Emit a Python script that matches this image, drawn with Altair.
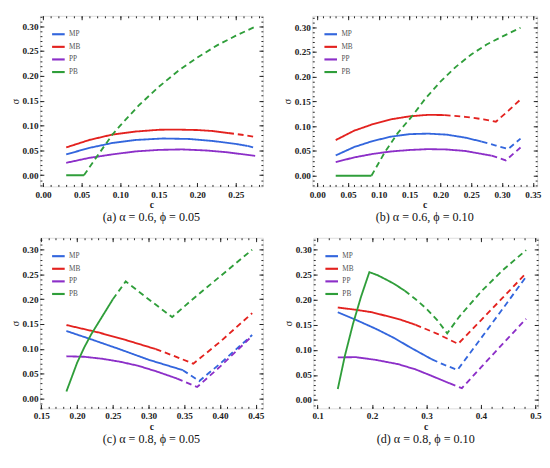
import altair as alt
import pandas as pd

SERIES = ["MP", "MB", "PP", "PB"]
COLORS = ["#3366dd", "#e3221f", "#8c2fc8", "#2f9e3a"]
FONT = "Liberation Serif"

# ---------------- panel (a): alpha = 0.6, phi = 0.05 ----------------
a_MP_x = [0.03, 0.06, 0.09, 0.12, 0.155, 0.19, 0.22, 0.25, 0.265, 0.275]
a_MP_y = [0.042, 0.055, 0.065, 0.071, 0.074, 0.073, 0.069, 0.063, 0.059, 0.055]
a_MB_x = [0.03, 0.06, 0.09, 0.12, 0.15, 0.17, 0.20, 0.22, 0.24, 0.26, 0.275]
a_MB_y = [0.056, 0.071, 0.082, 0.088, 0.0915, 0.092, 0.091, 0.089, 0.085, 0.081, 0.077]
a_PP_x = [0.03, 0.06, 0.09, 0.12, 0.15, 0.18, 0.21, 0.24, 0.275]
a_PP_y = [0.025, 0.035, 0.042, 0.048, 0.051, 0.052, 0.050, 0.046, 0.039]
a_PB_x = [0.03, 0.053, 0.07, 0.08, 0.09, 0.10, 0.125, 0.15, 0.175, 0.20, 0.225, 0.25, 0.275]
a_PB_y = [0.0, 0.0, 0.038, 0.06, 0.082, 0.10, 0.142, 0.178, 0.21, 0.237, 0.261, 0.281, 0.299]
a_dash_from = {"MP": 0.265, "MB": 0.24, "PP": None, "PB": 0.053}

# ---------------- panel (b): alpha = 0.6, phi = 0.10 ----------------
b_MP_x = [0.03, 0.06, 0.09, 0.12, 0.15, 0.18, 0.21, 0.24, 0.267, 0.29, 0.31, 0.33]
b_MP_y = [0.041, 0.058, 0.070, 0.079, 0.084, 0.085, 0.083, 0.077, 0.069, 0.061, 0.054, 0.075]
b_MB_x = [0.03, 0.06, 0.09, 0.12, 0.15, 0.18, 0.207, 0.24, 0.27, 0.29, 0.31, 0.33]
b_MB_y = [0.072, 0.091, 0.104, 0.114, 0.120, 0.123, 0.1225, 0.119, 0.114, 0.109, 0.131, 0.154]
b_PP_x = [0.03, 0.06, 0.09, 0.12, 0.15, 0.18, 0.21, 0.24, 0.283, 0.306, 0.33]
b_PP_y = [0.0275, 0.037, 0.044, 0.049, 0.052, 0.0537, 0.053, 0.050, 0.0405, 0.031, 0.057]
b_PB_x = [0.03, 0.088, 0.11, 0.13, 0.155, 0.175, 0.20, 0.225, 0.25, 0.275, 0.30, 0.33]
b_PB_y = [0.0, 0.0, 0.048, 0.085, 0.122, 0.155, 0.19, 0.22, 0.245, 0.265, 0.281, 0.299]
b_dash_from = {"MP": 0.267, "MB": 0.207, "PP": 0.283, "PB": 0.088}

# ---------------- panel (c): alpha = 0.8, phi = 0.05 ----------------
c_MP_x = [0.185, 0.22, 0.26, 0.30, 0.348, 0.371, 0.40, 0.445]
c_MP_y = [0.136, 0.119, 0.099, 0.078, 0.057, 0.035, 0.070, 0.128]
c_MB_x = [0.185, 0.23, 0.27, 0.31, 0.335, 0.3626, 0.40, 0.445]
c_MB_y = [0.148, 0.133, 0.117, 0.0995, 0.086, 0.070, 0.114, 0.172]
c_PP_x = [0.185, 0.21, 0.235, 0.26, 0.285, 0.31, 0.34, 0.368, 0.40, 0.445]
c_PP_y = [0.085, 0.084, 0.080, 0.074, 0.066, 0.055, 0.040, 0.023, 0.064, 0.126]
c_PB_x = [0.185, 0.20, 0.21, 0.22, 0.235, 0.25, 0.268, 0.30, 0.333, 0.36, 0.40, 0.445]
c_PB_y = [0.014, 0.072, 0.103, 0.13, 0.165, 0.20, 0.236, 0.200, 0.164, 0.198, 0.246, 0.300]
c_dash_from = {"MP": 0.348, "MB": 0.31, "PP": 0.34, "PB": 0.25}

# ---------------- panel (d): alpha = 0.8, phi = 0.10 ----------------
d_MP_x = [0.137, 0.17, 0.207, 0.24, 0.27, 0.31, 0.333, 0.357, 0.40, 0.44, 0.483]
d_MP_y = [0.175, 0.160, 0.142, 0.124, 0.105, 0.081, 0.070, 0.060, 0.123, 0.182, 0.246]
d_MB_x = [0.137, 0.17, 0.20, 0.25, 0.28, 0.32, 0.358, 0.40, 0.44, 0.483]
d_MB_y = [0.1845, 0.180, 0.175, 0.161, 0.150, 0.132, 0.112, 0.159, 0.204, 0.253]
d_PP_x = [0.137, 0.17, 0.207, 0.248, 0.28, 0.3075, 0.343, 0.365, 0.40, 0.44, 0.483]
d_PP_y = [0.085, 0.0855, 0.080, 0.0715, 0.061, 0.049, 0.033, 0.0236, 0.065, 0.112, 0.162]
d_PB_x = [0.137, 0.15, 0.165, 0.18, 0.195, 0.21, 0.2245, 0.24, 0.26, 0.28, 0.30, 0.32,
          0.338, 0.36, 0.40, 0.44, 0.483]
d_PB_y = [0.022, 0.088, 0.152, 0.207, 0.255, 0.249, 0.241, 0.232, 0.218, 0.201, 0.182, 0.159,
          0.133, 0.166, 0.216, 0.259, 0.299]
d_dash_from = {"MP": 0.31, "MB": 0.28, "PP": 0.343, "PB": 0.26}

# ---------------- axes ----------------
y_ticks = [0.00, 0.05, 0.10, 0.15, 0.20, 0.25, 0.30]
y_minor = [round(-0.02 + 0.01 * i, 2) for i in range(35)]
a_xticks = [0.00, 0.05, 0.10, 0.15, 0.20, 0.25]
b_xticks = [0.00, 0.05, 0.10, 0.15, 0.20, 0.25, 0.30, 0.35]
c_xticks = [0.15, 0.20, 0.25, 0.30, 0.35, 0.40, 0.45]
d_xticks = [0.1, 0.2, 0.3, 0.4, 0.5]
a_xminor = [round(0.01 * i, 2) for i in range(0, 29)]
b_xminor = [round(0.01 * i, 2) for i in range(0, 36)]
c_xminor = [round(0.15 + 0.01 * i, 2) for i in range(0, 31)]
d_xminor = [round(0.1 + 0.02 * i, 2) for i in range(0, 21)]

panels = [
    dict(cap="(a) α = 0.6, ϕ = 0.05", xdom=[-0.004, 0.285], ydom=[-0.0225, 0.321],
         xt=a_xticks, xm=a_xminor, fmt=".2f", w=230,
         data={"MP": (a_MP_x, a_MP_y), "MB": (a_MB_x, a_MB_y), "PP": (a_PP_x, a_PP_y), "PB": (a_PB_x, a_PB_y)},
         dash=a_dash_from),
    dict(cap="(b) α = 0.6, ϕ = 0.10", xdom=[-0.008, 0.357], ydom=[-0.0216, 0.323],
         xt=b_xticks, xm=b_xminor, fmt=".2f", w=232,
         data={"MP": (b_MP_x, b_MP_y), "MB": (b_MB_x, b_MB_y), "PP": (b_PP_x, b_PP_y), "PB": (b_PB_x, b_PB_y)},
         dash=b_dash_from),
    dict(cap="(c) α = 0.8, ϕ = 0.05", xdom=[0.148, 0.46], ydom=[-0.02, 0.324],
         xt=c_xticks, xm=c_xminor, fmt=".2f", w=230,
         data={"MP": (c_MP_x, c_MP_y), "MB": (c_MB_x, c_MB_y), "PP": (c_PP_x, c_PP_y), "PB": (c_PB_x, c_PB_y)},
         dash=c_dash_from),
    dict(cap="(d) α = 0.8, ϕ = 0.10", xdom=[0.092, 0.505], ydom=[-0.0166, 0.3236],
         xt=d_xticks, xm=d_xminor, fmt=".1f", w=232,
         data={"MP": (d_MP_x, d_MP_y), "MB": (d_MB_x, d_MB_y), "PP": (d_PP_x, d_PP_y), "PB": (d_PB_x, d_PB_y)},
         dash=d_dash_from),
]

AX = dict(domain=False, grid=False, tickColor="#222", tickWidth=1, minExtent=0)


def make_panel(p):
    rows = []
    for s in SERIES:
        xs, ys = p["data"][s]
        cut = p["dash"][s]
        for x, y in zip(xs, ys):
            if cut is None or x <= cut:
                rows.append({"series": s, "style": "solid", "x": x, "y": y})
            if cut is not None and x >= cut:
                rows.append({"series": s, "style": "dashed", "x": x, "y": y})
    df = pd.DataFrame(rows)
    xs = alt.Scale(domain=p["xdom"], nice=False, zero=False)
    ys = alt.Scale(domain=p["ydom"], nice=False, zero=False)
    base = alt.Chart(df)

    lines = base.mark_line(strokeWidth=1.9, clip=True).encode(
        x=alt.X("x:Q", scale=xs, axis=alt.Axis(
            orient="bottom", values=p["xt"], format=p["fmt"], title="c",
            offset=-4, tickSize=4, labelFont=FONT, labelFontWeight="bold",
            labelFontSize=9.5, labelColor="#222", labelPadding=3,
            titleFont=FONT, titleFontWeight="bold", titleFontSize=10,
            titleColor="#222", titlePadding=1, **AX)),
        y=alt.Y("y:Q", scale=ys, axis=alt.Axis(
            orient="left", values=y_ticks, format=".2f", title="σ",
            offset=-4, tickSize=4, labelFont=FONT, labelFontWeight="bold",
            labelFontSize=9.5, labelColor="#222", labelPadding=2,
            titleFont=FONT, titleFontWeight="normal", titleFontSize=11,
            titleColor="#222", titlePadding=2, **AX)),
        color=alt.Color("series:N", scale=alt.Scale(domain=SERIES, range=COLORS),
                        legend=alt.Legend(title=None, orient="top-left", offset=11,
                                          symbolType="stroke", symbolSize=169,
                                          symbolStrokeWidth=2.2, labelFont=FONT,
                                          labelFontSize=7.5, labelColor="#555",
                                          rowPadding=0, labelOffset=3, padding=0)),
        strokeDash=alt.StrokeDash("style:N",
                                  scale=alt.Scale(domain=["solid", "dashed"],
                                                  range=[[1, 0], [6, 4]]),
                                  legend=None),
    )

    def tick_layer(orient_x, orient_y, xv, yv, size):
        return base.mark_point(opacity=0).encode(
            x=alt.X("x:Q", scale=xs, axis=alt.Axis(
                orient=orient_x, values=xv, labels=False, title=None,
                offset=-size, tickSize=size, maxExtent=0, **AX)),
            y=alt.Y("y:Q", scale=ys, axis=alt.Axis(
                orient=orient_y, values=yv, labels=False, title=None,
                offset=-size, tickSize=size, maxExtent=0, **AX)),
        )

    top_major = tick_layer("top", "right", p["xt"], y_ticks, 4)
    minor_bl = tick_layer("bottom", "left", p["xm"], y_minor, 2)
    minor_tr = tick_layer("top", "right", p["xm"], y_minor, 2)

    return alt.layer(lines, top_major, minor_bl, minor_tr).resolve_axis(
        x="independent", y="independent"
    ).properties(
        width=p["w"], height=176,
        title=alt.TitleParams(text=p["cap"], orient="bottom", font=FONT,
                              fontSize=12.5, fontWeight="normal", color="#111",
                              offset=2, anchor="middle"),
    )


ch = [make_panel(p) for p in panels]
row1 = alt.hconcat(ch[0], ch[1], spacing=17).resolve_scale(color="independent", strokeDash="independent")
row2 = alt.hconcat(ch[2], ch[3], spacing=17).resolve_scale(color="independent", strokeDash="independent")
chart = alt.vconcat(row1, row2, spacing=13).resolve_scale(
    color="independent", strokeDash="independent"
).properties(padding=0).configure_view(stroke="#555", strokeWidth=1).configure(background="white")

chart.save("out.html", embed_options={"renderer": "svg", "actions": False})
